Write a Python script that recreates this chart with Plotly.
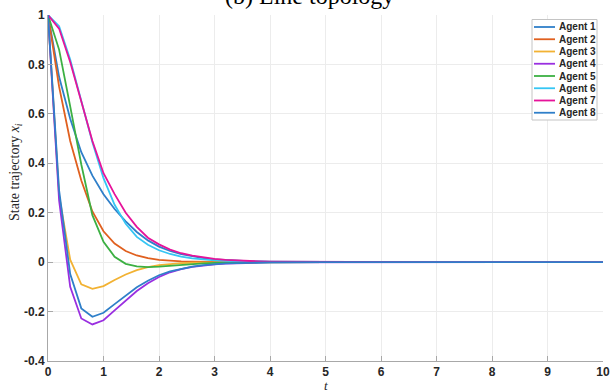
import plotly.graph_objects as go

# ---------------- data ----------------
t = [0, 0.2, 0.4, 0.6, 0.8, 1.0, 1.2, 1.4, 1.6, 1.8, 2.0, 2.2, 2.4, 2.6, 2.8,
     3.0, 3.2, 3.4, 3.6, 3.8, 4.0, 5, 6, 7, 8, 9, 10]

agent1 = [1, 0.75, 0.58, 0.445, 0.35, 0.275, 0.215, 0.165, 0.122, 0.088, 0.063,
          0.045, 0.032, 0.023, 0.016, 0.011, 0.008, 0.006, 0.004, 0.003, 0.002,
          0.0005, 0.0001, 0, 0, 0, 0]
agent2 = [1, 0.71, 0.49, 0.33, 0.205, 0.125, 0.075, 0.045, 0.027, 0.016, 0.009,
          0.005, 0.003, 0.002, 0.001, 0.0005, 0.0003, 0.0002, 0.0001, 0, 0,
          0, 0, 0, 0, 0, 0]
agent3 = [1, 0.27, 0.01, -0.09, -0.108, -0.097, -0.072, -0.05, -0.032, -0.02,
          -0.012, -0.007, -0.004, -0.0025, -0.0015, -0.001, -0.0006, -0.0004,
          -0.0002, -0.0001, 0, 0, 0, 0, 0, 0, 0]
agent4 = [1, 0.25, -0.10, -0.228, -0.252, -0.235, -0.195, -0.155, -0.117, -0.085,
          -0.06, -0.041, -0.028, -0.019, -0.013, -0.009, -0.006, -0.004, -0.003,
          -0.002, -0.001, -0.0002, 0, 0, 0, 0, 0]
agent5 = [1, 0.86, 0.63, 0.395, 0.19, 0.082, 0.022, -0.007, -0.017, -0.02, -0.018,
          -0.014, -0.01, -0.007, -0.005, -0.003, -0.002, -0.0015, -0.001, -0.0007,
          -0.0005, -0.0001, 0, 0, 0, 0, 0]
agent6 = [1, 0.955, 0.82, 0.655, 0.485, 0.34, 0.232, 0.155, 0.102, 0.07, 0.048,
          0.033, 0.022, 0.015, 0.01, 0.007, 0.005, 0.003, 0.002, 0.0015, 0.001,
          0.0002, 0, 0, 0, 0, 0]
agent7 = [1, 0.945, 0.81, 0.645, 0.49, 0.36, 0.275, 0.2, 0.143, 0.099, 0.072,
          0.051, 0.036, 0.026, 0.019, 0.013, 0.009, 0.006, 0.004, 0.003, 0.002,
          0.0004, 0.0001, 0, 0, 0, 0]
agent8 = [1, 0.29, -0.048, -0.187, -0.221, -0.205, -0.17, -0.135, -0.102, -0.075,
          -0.053, -0.037, -0.026, -0.018, -0.012, -0.008, -0.005, -0.004, -0.003,
          -0.002, -0.001, -0.0002, 0, 0, 0, 0, 0]

series = [agent1, agent2, agent3, agent4, agent5, agent6, agent7, agent8]
names = ["Agent 1", "Agent 2", "Agent 3", "Agent 4",
         "Agent 5", "Agent 6", "Agent 7", "Agent 8"]
colors = ["#2f7fc9", "#e0601f", "#f2b233", "#9a2fe0",
          "#3cb043", "#35c6f4", "#e6139a", "#2f7fc9"]

x_ticks = [0, 1, 2, 3, 4, 5, 6, 7, 8, 9, 10]
y_ticks = [-0.4, -0.2, 0, 0.2, 0.4, 0.6, 0.8, 1]
y_ticktext = ["-0.4", "-0.2", "0", "0.2", "0.4", "0.6", "0.8", "1"]

title_text = "(b) Line topology"
ylabel_text = "State trajectory <i>x<sub>i</sub></i>"
xlabel_text = "<i>t</i>"

# ---------------- layout geometry (pixels) ----------------
W, H = 610, 390
L, R, T, B = 48, 7, 15, 29
PW, PH = W - L - R, H - T - B


def px(xp):
    return (xp - L) / PW


def py(yp):
    return (H - B - yp) / PH


fig = go.Figure()
for s, n, c in zip(series, names, colors):
    fig.add_trace(go.Scatter(x=t, y=s, mode="lines", name=n,
                             line=dict(color=c, width=1.8),
                             showlegend=False))

tickfont = dict(family="Liberation Sans, Arial, sans-serif", size=12,
                color="#262626", weight="bold")

fig.update_layout(
    width=W, height=H,
    margin=dict(l=L, r=R, t=T, b=B, autoexpand=False),
    paper_bgcolor="white", plot_bgcolor="white",
    xaxis=dict(range=[0, 10], tickvals=x_ticks, ticks="inside", ticklen=5,
               tickcolor="#a8a8a8", showline=True, linecolor="#a8a8a8",
               linewidth=1, showgrid=True, gridcolor="#ececec",
               zeroline=False, tickfont=tickfont, automargin=False),
    yaxis=dict(range=[-0.4, 1], tickvals=y_ticks, ticktext=y_ticktext,
               ticks="inside", ticklen=5, tickcolor="#a8a8a8",
               showline=True, linecolor="#a8a8a8", linewidth=1,
               showgrid=True, gridcolor="#ececec", zeroline=False,
               tickfont=tickfont, automargin=False),
)

serif = "Liberation Serif, Times New Roman, serif"
annotations = [
    dict(text=title_text, xref="paper", yref="paper", x=px(309), y=py(11),
         xanchor="center", yanchor="bottom", showarrow=False,
         font=dict(family=serif, size=24, color="black")),
    dict(text=ylabel_text, xref="paper", yref="paper", x=px(15), y=py(172),
         xanchor="center", yanchor="middle", textangle=-90, showarrow=False,
         font=dict(family=serif, size=14, color="#262626")),
    dict(text=xlabel_text, xref="paper", yref="paper", x=px(326), y=py(376),
         xanchor="center", yanchor="top", showarrow=False,
         font=dict(family=serif, size=13, color="#262626")),
]

# ---------------- legend (drawn as layout decoration) ----------------
shapes = []
lx0, lx1, ly0, ly1 = 532, 597, 19.5, 120
shapes.append(dict(type="rect", xref="paper", yref="paper",
                   x0=px(lx0), x1=px(lx1), y0=py(ly1), y1=py(ly0),
                   line=dict(color="#c4c4c4", width=1), fillcolor="white"))
row0, rowh = 27, 12.25
for i, (n, c) in enumerate(zip(names, colors)):
    yc = row0 + i * rowh
    shapes.append(dict(type="line", xref="paper", yref="paper",
                       x0=px(534), x1=px(555), y0=py(yc), y1=py(yc),
                       line=dict(color=c, width=1.8)))
    annotations.append(dict(text=n, xref="paper", yref="paper",
                            x=px(557), y=py(yc), xanchor="left",
                            yanchor="middle", showarrow=False,
                            font=dict(family="Liberation Sans, Arial", size=10,
                                      color="#262626", weight="bold")))

fig.update_layout(annotations=annotations, shapes=shapes)
fig.write_html("out.html")
